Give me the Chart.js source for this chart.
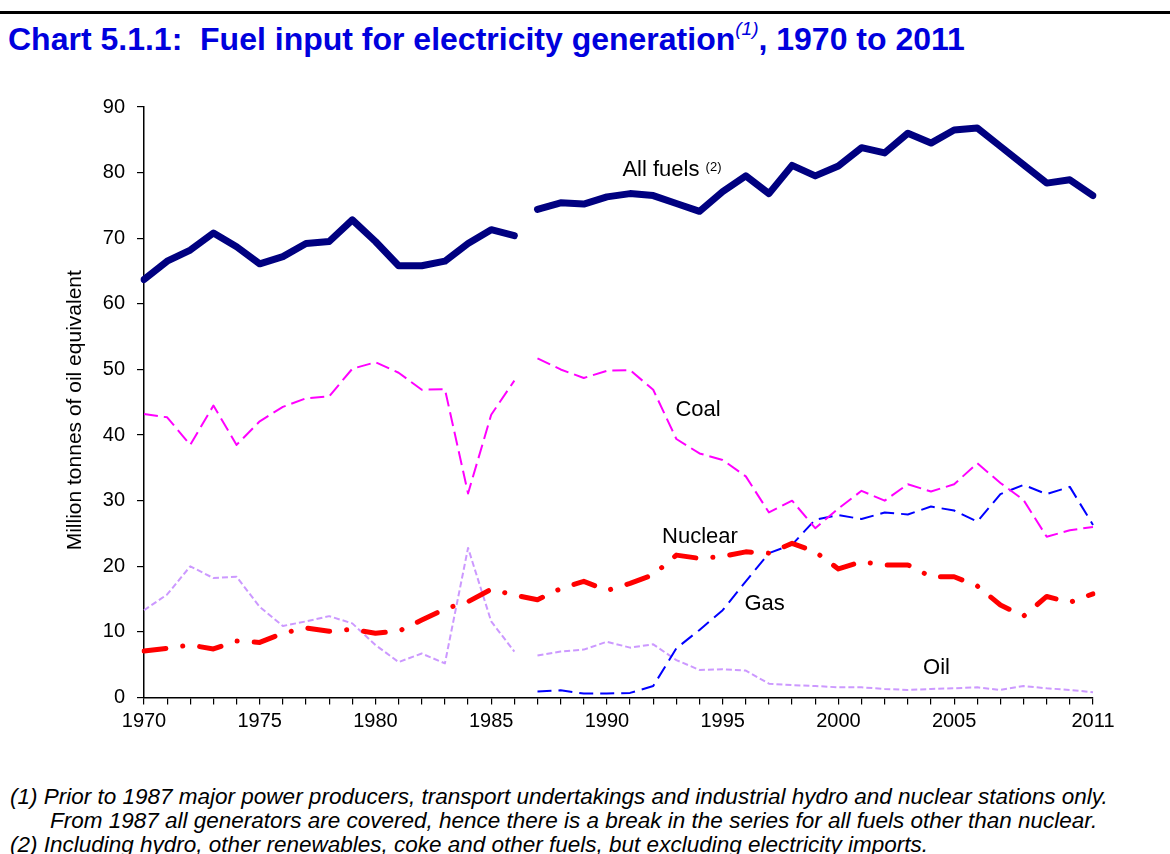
<!DOCTYPE html>
<html>
<head>
<meta charset="utf-8">
<script src="https://cdn.jsdelivr.net/npm/chart.js@4.4.1/dist/chart.umd.min.js"></script>
<style>
  html, body { margin: 0; padding: 0; background: #fff; width: 1170px; height: 854px; overflow: hidden; }
  body { position: relative; font-family: "Liberation Sans", Arial, sans-serif; }
  #rule { position: absolute; left: 0; top: 11px; width: 1170px; height: 3px; background: #000; }
  #title { position: absolute; left: 8px; top: 21px; font-weight: bold; font-size: 32px; color: #0000dd; white-space: nowrap; }
  #title sup { font-size: 19px; font-style: italic; font-weight: normal; position: relative; top: -3px; }
  #chart { position: absolute; left: 0; top: 0; }
  .note { position: absolute; left: 10px; font-style: italic; font-size: 22.5px; color: #000; white-space: nowrap; }
</style>
</head>
<body>
<div id="rule"></div>
<div id="title">Chart 5.1.1:&nbsp; Fuel input for electricity generation<sup>(1)</sup>, 1970 to 2011</div>
<canvas id="chart" width="1170" height="760"></canvas>
<div class="note" style="top:784px">(1) Prior to 1987 major power producers, transport undertakings and industrial hydro and nuclear stations only.</div>
<div class="note" style="top:808px; left:50px">From 1987 all generators are covered, hence there is a break in the series for all fuels other than nuclear.</div>
<div class="note" style="top:832px">(2) Including hydro, other renewables, coke and other fuels, but excluding electricity imports.</div>
<script>
// Years on the x axis
const years = [1970,1971,1972,1973,1974,1975,1976,1977,1978,1979,1980,1981,1982,1983,1984,1985,1986,
               1987,1988,1989,1990,1991,1992,1993,1994,1995,1996,1997,1998,1999,2000,2001,2002,2003,
               2004,2005,2006,2007,2008,2009,2010,2011];
const xTickLabels = [1970,1975,1980,1985,1990,1995,2000,2005,2011];
const yTicks = [0,10,20,30,40,50,60,70,80,90];
const yTitle = 'Million tonnes of oil equivalent';
// Series coverage changes in 1987: the segment 1986 -> 1987 is not drawn
const breakYear = 1987;

// Million tonnes of oil equivalent
const allFuels = [63.7,66.5,68.2,70.8,68.7,66.1,67.2,69.2,69.5,72.8,69.5,65.8,65.8,66.5,69.2,71.3,70.4,
                  74.4,75.4,75.2,76.3,76.8,76.5,75.3,74.1,77.1,79.5,76.8,81.1,79.5,81.0,83.8,83.0,86.0,
                  84.5,86.5,86.8,84.0,81.2,78.4,78.9,76.5];
const coal = [43.2,42.7,38.5,44.5,38.5,42.1,44.3,45.6,45.9,50.1,51.1,49.5,46.9,47.0,31.1,43.1,48.3,
              51.7,50.0,48.7,49.8,49.9,46.9,39.4,37.2,36.2,33.7,28.2,30.0,25.8,28.8,31.5,30.0,32.5,
              31.4,32.5,35.7,32.7,30.1,24.5,25.5,26.0];
const nuclear = [7.1,7.5,8.0,7.4,8.6,8.4,9.8,10.6,10.1,10.4,9.8,10.1,11.8,13.5,14.6,16.5,15.6,
                 14.9,16.6,17.7,16.3,17.4,18.7,21.7,21.2,21.5,22.2,22.0,23.5,22.2,19.6,20.7,20.2,20.2,
                 18.4,18.4,17.0,14.1,12.4,15.4,14.5,15.8];
const gas = [null,null,null,null,null,null,null,null,null,null,null,null,null,null,null,null,null,
             0.9,1.1,0.6,0.6,0.7,1.75,7.5,10.3,13.3,17.7,22.0,23.3,27.1,27.8,27.2,28.2,27.9,
             29.1,28.5,26.8,31.0,32.4,31.0,32.1,26.3];
const oil = [13.3,15.7,20.0,18.2,18.4,13.8,10.9,11.6,12.4,11.3,8.0,5.4,6.7,5.2,22.8,11.6,7.0,
             6.4,7.0,7.3,8.5,7.6,8.1,5.7,4.2,4.3,4.1,2.1,1.9,1.75,1.55,1.55,1.3,1.15,
             1.3,1.4,1.55,1.15,1.75,1.4,1.15,0.8];

// In-chart series names, anchored in axis units (year index, value)
const seriesLabels = [
  { text: 'All fuels', sup: '(2)', x: 20.67, y: 80.4 },
  { text: 'Coal', x: 22.96, y: 43.8 },
  { text: 'Nuclear', x: 22.38, y: 24.5 },
  { text: 'Gas', x: 25.94, y: 14.3 },
  { text: 'Oil', x: 33.66, y: 4.5 }
];

const breakIdx = years.indexOf(breakYear);
const hideBreak = ctx => (ctx.p1DataIndex === breakIdx ? 'rgba(0,0,0,0)' : undefined);

function series(label, data, color, width, dash, cap, breaks) {
  return {
    label, data,
    borderColor: color, backgroundColor: color,
    borderWidth: width, borderDash: dash, borderCapStyle: cap || 'butt',
    borderJoinStyle: 'round',
    pointRadius: 0, pointHoverRadius: 0, tension: 0, fill: false, spanGaps: false,
    segment: breaks ? { borderColor: hideBreak } : undefined
  };
}

const FONT = '"Liberation Sans", Arial, sans-serif';

const labelPlugin = {
  id: 'seriesLabels',
  afterDatasetsDraw(chart) {
    const { ctx, chartArea, scales: { x, y } } = chart;
    ctx.save();
    ctx.fillStyle = '#000';
    ctx.textBaseline = 'middle';
    ctx.textAlign = 'left';
    seriesLabels.forEach(l => {
      const px = x.getPixelForValue(l.x);
      const py = y.getPixelForValue(l.y);
      ctx.font = '22px ' + FONT;
      ctx.fillText(l.text, px, py);
      if (l.sup) {
        const w = ctx.measureText(l.text + ' ').width;
        ctx.font = '13px ' + FONT;
        ctx.fillText(l.sup, px + w, py - 3);
      }
    });
    // Value axis title, rotated
    ctx.translate(75, (chartArea.top + chartArea.bottom) / 2 + 8);
    ctx.rotate(-Math.PI / 2);
    ctx.textAlign = 'center';
    ctx.font = '21px ' + FONT;
    ctx.fillText(yTitle, 0, 0);
    ctx.restore();
  }
};

new Chart(document.getElementById('chart'), {
  type: 'line',
  data: {
    labels: years,
    datasets: [
      series('All fuels', allFuels, '#000080', 7, [], 'round', true),
      series('Nuclear', nuclear, '#ff0000', 5, [22, 17, 0.1, 17], 'round', false),
      series('Coal', coal, '#ff00ff', 2, [14, 6], 'butt', true),
      series('Gas', gas, '#0000ff', 2, [14, 7], 'butt', true),
      series('Oil', oil, '#cc99ff', 2, [6, 3], 'butt', true)
    ]
  },
  options: {
    responsive: false,
    animation: false,
    events: [],
    layout: { padding: { top: 107, left: 0, right: 77, bottom: 22.5 } },
    plugins: { legend: { display: false }, tooltip: { enabled: false }, title: { display: false } },
    scales: {
      x: {
        type: 'category',
        offset: false,
        afterFit: s => { s.height = 40; },
        border: { color: '#000', width: 1.5 },
        grid: { drawOnChartArea: false, drawTicks: true, tickLength: 7, color: '#000', lineWidth: 1.2 },
        ticks: {
          autoSkip: false, maxRotation: 0, minRotation: 0, padding: 5,
          color: '#000', font: { family: FONT, size: 20 },
          callback: (v, i) => (xTickLabels.includes(years[i]) ? String(years[i]) : '')
        }
      },
      y: {
        min: yTicks[0], max: yTicks[yTicks.length - 1],
        afterFit: s => { s.width = 144; },
        afterBuildTicks: s => { s.ticks = yTicks.map(v => ({ value: v })); },
        border: { color: '#000', width: 1.5 },
        grid: { drawOnChartArea: false, drawTicks: true, tickLength: 7, color: '#000', lineWidth: 1.2 },
        ticks: { padding: 12, color: '#000', font: { family: FONT, size: 20 } },
        title: { display: false }
      }
    }
  },
  plugins: [labelPlugin]
});
</script>
</body>
</html>
